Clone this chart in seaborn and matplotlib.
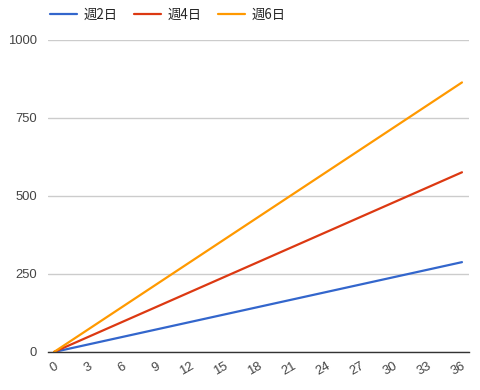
import matplotlib
matplotlib.use("Agg")
import matplotlib.pyplot as plt
import seaborn as sns
import pandas as pd
from matplotlib.lines import Line2D

days = [0, 3, 6, 9, 12, 15, 18, 21, 24, 27, 30, 33, 36]
week2 = [0, 24, 48, 72, 96, 120, 144, 168, 192, 216, 240, 264, 288]
week4 = [0, 48, 96, 144, 192, 240, 288, 336, 384, 432, 480, 528, 576]
week6 = [0, 72, 144, 216, 288, 360, 432, 504, 576, 648, 720, 792, 864]
series_names = ["週2日", "週4日", "週6日"]
colors = ["#3366cc", "#dc3912", "#ff9900"]
y_ticks = [0, 250, 500, 750, 1000]

rows = []
for name, vals in zip(series_names, [week2, week4, week6]):
    for d, v in zip(days, vals):
        rows.append({"x": d, "y": v, "series": name})
df = pd.DataFrame(rows)

sns.set_style("white")
plt.rcParams['font.family'] = ['Liberation Sans', 'Noto Sans CJK JP', 'DejaVu Sans']

fig = plt.figure(figsize=(4.81, 3.90), dpi=100)
ax = fig.add_axes([48/481, 38/390, (469-48)/481, (352-40)/390])

sns.lineplot(data=df, x="x", y="y", hue="series", palette=colors,
             hue_order=series_names, linewidth=1.6, ax=ax, legend=False)

ax.set_xlim(-0.53, 36.62)
ax.set_ylim(0, 1000)
ax.set_yticks(y_ticks)
ax.set_xticks(days)
ax.set_yticklabels([str(t) for t in y_ticks], fontsize=9.4, color="#444444")
ax.set_xticklabels([str(d) for d in days], fontsize=9.4, color="#444444",
                   rotation=30, ha="right", rotation_mode="anchor")
ax.tick_params(axis="both", length=0, pad=8)
ax.tick_params(axis="x", pad=6)
ax.grid(axis="y", color="#cccccc", linewidth=1)
ax.set_axisbelow(True)
for s in ["top", "right", "left"]:
    ax.spines[s].set_visible(False)
ax.spines["bottom"].set_color("#333333")
ax.spines["bottom"].set_linewidth(1)
ax.spines["bottom"].set_zorder(3)
ax.set_xlabel("")
ax.set_ylabel("")

handles = [Line2D([0], [0], color=c, linewidth=1.6) for c in colors]
fig.legend(handles, series_names, loc="upper left", bbox_to_anchor=(38/481, 1.0 + 4/390),
           ncol=3, frameon=False, handlelength=2.0,
           columnspacing=1.25, handletextpad=0.5,
           prop={'family': ['Noto Sans CJK JP', 'DejaVu Sans'], 'size': 9.6})

fig.savefig("out.png", dpi=100)
